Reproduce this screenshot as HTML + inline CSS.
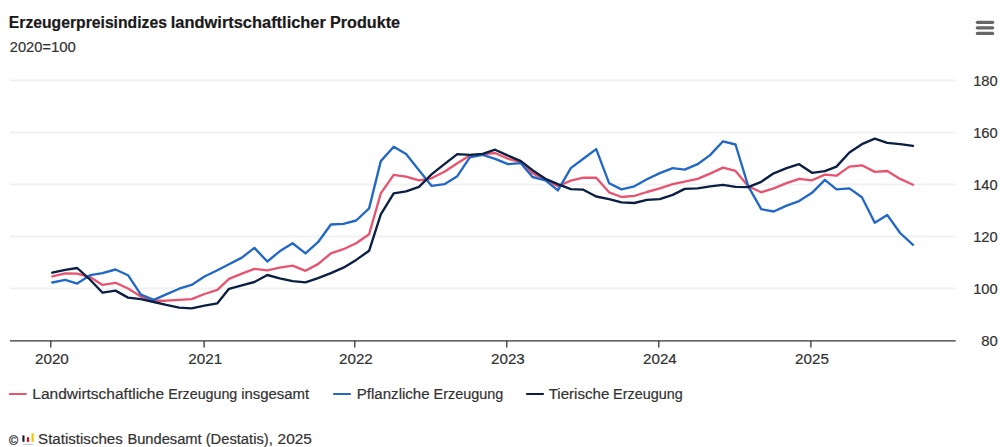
<!DOCTYPE html>
<html lang="de"><head><meta charset="utf-8"><title>Erzeugerpreisindizes landwirtschaftlicher Produkte</title>
<style>
html,body{margin:0;padding:0;background:#fff;}
body{width:1000px;height:447px;overflow:hidden;font-family:"Liberation Sans",sans-serif;}
svg{display:block;font-family:"Liberation Sans",sans-serif;}
</style></head><body>
<svg width="1000" height="447" viewBox="0 0 1000 447">
<rect x="0" y="0" width="1000" height="447" fill="#ffffff"/>
<rect x="0" y="0" width="995" height="10.5" fill="#fefefe"/>
<text x="8.8" y="27.5" font-size="15.6" font-weight="bold" fill="#1a1a1a" stroke="#1a1a1a" stroke-width="0.2" textLength="158.1" lengthAdjust="spacingAndGlyphs">Erzeugerpreisindizes</text><text x="170.8" y="27.5" font-size="15.6" font-weight="bold" fill="#1a1a1a" stroke="#1a1a1a" stroke-width="0.2" textLength="155.1" lengthAdjust="spacingAndGlyphs">landwirtschaftlicher</text><text x="330.0" y="27.5" font-size="15.6" font-weight="bold" fill="#1a1a1a" stroke="#1a1a1a" stroke-width="0.2" textLength="70.1" lengthAdjust="spacingAndGlyphs">Produkte</text>
<text x="9.8" y="51.6" font-size="14" font-weight="normal" fill="#333333" stroke="#333333" stroke-width="0.2" textLength="32.5" lengthAdjust="spacingAndGlyphs">2020</text><text x="42.4" y="51.6" font-size="14" font-weight="normal" fill="#333333" stroke="#333333" stroke-width="0.2" textLength="8.4" lengthAdjust="spacingAndGlyphs">=</text><text x="50.9" y="51.6" font-size="14" font-weight="normal" fill="#333333" stroke="#333333" stroke-width="0.2" textLength="24.9" lengthAdjust="spacingAndGlyphs">100</text>
<line x1="977.4" x2="992.6" y1="22.3" y2="22.3" stroke="#666" stroke-width="3.3" stroke-linecap="round"/><line x1="977.4" x2="992.6" y1="27.85" y2="27.85" stroke="#666" stroke-width="3.3" stroke-linecap="round"/><line x1="977.4" x2="992.6" y1="33.4" y2="33.4" stroke="#666" stroke-width="3.3" stroke-linecap="round"/>
<line x1="10" x2="955.7" y1="80.55" y2="80.55" stroke="#f1f1f1" stroke-width="1.9"/><line x1="10" x2="955.7" y1="132.55" y2="132.55" stroke="#f1f1f1" stroke-width="1.9"/><line x1="10" x2="955.7" y1="184.55" y2="184.55" stroke="#f1f1f1" stroke-width="1.9"/><line x1="10" x2="955.7" y1="236.55" y2="236.55" stroke="#f1f1f1" stroke-width="1.9"/><line x1="10" x2="955.7" y1="288.55" y2="288.55" stroke="#f1f1f1" stroke-width="1.9"/>
<path d="M52.3 276.3 L65.2 273.4 L77.2 273.7 L90.1 277.1 L102.6 284.9 L115.5 282.8 L128.0 288.5 L140.9 296.6 L153.8 300.7 L166.2 300.7 L179.1 299.9 L191.6 299.2 L204.5 294.0 L217.4 289.8 L229.0 278.9 L241.9 273.7 L254.4 268.9 L267.3 270.3 L279.7 267.7 L292.6 265.6 L305.5 270.8 L318.0 264.1 L330.9 253.4 L343.4 249.2 L356.2 243.3 L369.1 234.2 L380.8 193.3 L393.7 174.9 L406.1 176.7 L419.0 180.3 L431.5 178.3 L444.4 171.8 L457.3 163.2 L469.8 155.6 L482.7 154.3 L495.1 153.0 L508.0 158.8 L520.9 162.1 L532.5 173.3 L545.4 179.8 L557.9 186.3 L570.8 180.6 L583.3 177.7 L596.2 177.7 L609.1 192.3 L621.5 197.0 L634.4 195.9 L646.9 192.0 L659.8 188.4 L672.7 184.2 L684.7 181.6 L697.6 178.8 L710.1 173.6 L723.0 167.6 L735.5 170.9 L748.3 186.3 L761.2 192.3 L773.7 188.4 L786.6 183.2 L799.1 178.8 L812.0 180.3 L824.9 174.6 L836.5 175.7 L849.4 166.6 L861.9 165.3 L874.8 171.9 L887.2 171.0 L900.1 178.9 L913.0 184.8" fill="none" stroke="#e8546e" stroke-width="2.35" stroke-linejoin="round" stroke-linecap="round"/>
<path d="M52.3 282.5 L65.2 279.9 L77.2 283.6 L90.1 275.2 L102.6 273.2 L115.5 269.5 L128.0 275.2 L140.9 294.7 L153.8 299.9 L166.2 294.4 L179.1 288.7 L191.6 284.9 L204.5 276.5 L217.4 270.3 L229.0 264.3 L241.9 257.6 L254.4 247.9 L267.3 261.5 L279.7 251.3 L292.6 243.3 L305.5 253.4 L318.0 242.2 L330.9 224.5 L343.4 223.8 L356.2 220.5 L369.1 208.4 L380.8 161.1 L393.7 146.8 L406.1 154.1 L419.0 170.2 L431.5 185.8 L444.4 184.2 L457.3 176.2 L469.8 157.3 L482.7 154.9 L495.1 158.8 L508.0 164.2 L520.9 163.2 L532.5 177.0 L545.4 180.3 L557.9 190.4 L570.8 168.1 L583.3 158.8 L596.2 149.1 L609.1 183.2 L621.5 189.4 L634.4 186.3 L646.9 179.3 L659.8 173.1 L672.7 168.1 L684.7 169.7 L697.6 164.2 L710.1 155.1 L723.0 141.3 L735.5 144.5 L748.3 186.3 L761.2 209.2 L773.7 211.5 L786.6 205.6 L799.1 201.1 L812.0 192.8 L824.9 179.8 L836.5 189.4 L849.4 188.4 L861.9 197.2 L874.8 222.7 L887.2 214.9 L900.1 233.0 L913.0 244.8" fill="none" stroke="#2268c6" stroke-width="2.35" stroke-linejoin="round" stroke-linecap="round"/>
<path d="M52.3 272.7 L65.2 269.8 L77.2 268.0 L90.1 279.7 L102.6 292.7 L115.5 290.6 L128.0 297.6 L140.9 299.2 L153.8 302.0 L166.2 304.9 L179.1 307.6 L191.6 308.3 L204.5 305.7 L217.4 303.3 L229.0 288.8 L241.9 285.4 L254.4 282.0 L267.3 275.0 L279.7 278.4 L292.6 281.2 L305.5 282.3 L318.0 278.1 L330.9 273.2 L343.4 267.7 L356.2 259.9 L369.1 250.8 L380.8 214.4 L393.7 193.3 L406.1 191.3 L419.0 186.8 L431.5 174.4 L444.4 164.2 L457.3 154.1 L469.8 154.9 L482.7 153.8 L495.1 149.7 L508.0 155.6 L520.9 161.1 L532.5 170.2 L545.4 178.8 L557.9 184.2 L570.8 189.2 L583.3 189.7 L596.2 196.5 L609.1 199.1 L621.5 202.4 L634.4 203.0 L646.9 199.8 L659.8 199.1 L672.7 194.9 L684.7 188.9 L697.6 188.4 L710.1 186.3 L723.0 184.8 L735.5 186.8 L748.3 187.1 L761.2 181.8 L773.7 173.3 L786.6 168.2 L799.1 164.2 L812.0 172.8 L824.9 171.2 L836.5 166.6 L849.4 152.5 L861.9 144.2 L874.8 138.7 L887.2 142.9 L900.1 144.2 L913.0 145.8" fill="none" stroke="#0a1f44" stroke-width="2.35" stroke-linejoin="round" stroke-linecap="round"/>
<line x1="10" x2="955.7" y1="340.9" y2="340.9" stroke="#333" stroke-width="1.4"/>
<line x1="50.8" x2="50.8" y1="341" y2="347.6" stroke="#333" stroke-width="1.3"/><line x1="204.1" x2="204.1" y1="341" y2="347.6" stroke="#333" stroke-width="1.3"/><line x1="354.8" x2="354.8" y1="341" y2="347.6" stroke="#333" stroke-width="1.3"/><line x1="506.8" x2="506.8" y1="341" y2="347.6" stroke="#333" stroke-width="1.3"/><line x1="658.8" x2="658.8" y1="341" y2="347.6" stroke="#333" stroke-width="1.3"/><line x1="810.9" x2="810.9" y1="341" y2="347.6" stroke="#333" stroke-width="1.3"/>
<text x="35.0" y="363.8" font-size="14" font-weight="normal" fill="#333333" stroke="#333333" stroke-width="0.2" textLength="33.8" lengthAdjust="spacingAndGlyphs">2020</text><text x="188.3" y="363.8" font-size="14" font-weight="normal" fill="#333333" stroke="#333333" stroke-width="0.2" textLength="33.8" lengthAdjust="spacingAndGlyphs">2021</text><text x="339.0" y="363.8" font-size="14" font-weight="normal" fill="#333333" stroke="#333333" stroke-width="0.2" textLength="33.8" lengthAdjust="spacingAndGlyphs">2022</text><text x="491.0" y="363.8" font-size="14" font-weight="normal" fill="#333333" stroke="#333333" stroke-width="0.2" textLength="33.8" lengthAdjust="spacingAndGlyphs">2023</text><text x="643.0" y="363.8" font-size="14" font-weight="normal" fill="#333333" stroke="#333333" stroke-width="0.2" textLength="33.8" lengthAdjust="spacingAndGlyphs">2024</text><text x="795.1" y="363.8" font-size="14" font-weight="normal" fill="#333333" stroke="#333333" stroke-width="0.2" textLength="33.8" lengthAdjust="spacingAndGlyphs">2025</text>
<text x="973.2" y="86.3" font-size="14" font-weight="normal" fill="#333333" stroke="#333333" stroke-width="0.2" textLength="24.5" lengthAdjust="spacingAndGlyphs">180</text><text x="973.2" y="138.3" font-size="14" font-weight="normal" fill="#333333" stroke="#333333" stroke-width="0.2" textLength="24.5" lengthAdjust="spacingAndGlyphs">160</text><text x="973.2" y="190.3" font-size="14" font-weight="normal" fill="#333333" stroke="#333333" stroke-width="0.2" textLength="24.5" lengthAdjust="spacingAndGlyphs">140</text><text x="973.2" y="242.3" font-size="14" font-weight="normal" fill="#333333" stroke="#333333" stroke-width="0.2" textLength="24.5" lengthAdjust="spacingAndGlyphs">120</text><text x="973.2" y="294.3" font-size="14" font-weight="normal" fill="#333333" stroke="#333333" stroke-width="0.2" textLength="24.5" lengthAdjust="spacingAndGlyphs">100</text><text x="981.2" y="346.3" font-size="14" font-weight="normal" fill="#333333" stroke="#333333" stroke-width="0.2" textLength="16.5" lengthAdjust="spacingAndGlyphs">80</text>
<line x1="9.8" x2="25.7" y1="394" y2="394" stroke="#e8546e" stroke-width="2.2" stroke-linecap="round"/><text x="32.3" y="398.5" font-size="14" font-weight="normal" fill="#333333" stroke="#333333" stroke-width="0.2" textLength="131.8" lengthAdjust="spacingAndGlyphs">Landwirtschaftliche</text><text x="168.3" y="398.5" font-size="14" font-weight="normal" fill="#333333" stroke="#333333" stroke-width="0.2" textLength="69.0" lengthAdjust="spacingAndGlyphs">Erzeugung</text><text x="241.2" y="398.5" font-size="14" font-weight="normal" fill="#333333" stroke="#333333" stroke-width="0.2" textLength="68.0" lengthAdjust="spacingAndGlyphs">insgesamt</text><line x1="334" x2="350" y1="394" y2="394" stroke="#2268c6" stroke-width="2.2" stroke-linecap="round"/><text x="356.8" y="398.5" font-size="14" font-weight="normal" fill="#333333" stroke="#333333" stroke-width="0.2" textLength="72.8" lengthAdjust="spacingAndGlyphs">Pflanzliche</text><text x="433.6" y="398.5" font-size="14" font-weight="normal" fill="#333333" stroke="#333333" stroke-width="0.2" textLength="69.6" lengthAdjust="spacingAndGlyphs">Erzeugung</text><line x1="527" x2="543" y1="394" y2="394" stroke="#0a1f44" stroke-width="2.2" stroke-linecap="round"/><text x="548.7" y="398.5" font-size="14" font-weight="normal" fill="#333333" stroke="#333333" stroke-width="0.2" textLength="60.6" lengthAdjust="spacingAndGlyphs">Tierische</text><text x="613.1" y="398.5" font-size="14" font-weight="normal" fill="#333333" stroke="#333333" stroke-width="0.2" textLength="69.6" lengthAdjust="spacingAndGlyphs">Erzeugung</text>
<text x="9.0" y="444.5" font-size="12.4" fill="#333333" stroke="#333333" stroke-width="0.3">©</text><rect x="22.4" y="435.4" width="2.1" height="6.4" fill="#1a1a1a"/><rect x="26.9" y="437.2" width="2.1" height="4.7" fill="#e2001a"/><rect x="31.5" y="433.3" width="2.2" height="8.5" fill="#f6c300"/><rect x="22.7" y="443.9" width="10.2" height="0.8" fill="#b0b0b0"/><text x="38.1" y="443.9" font-size="14" font-weight="normal" fill="#333333" stroke="#333333" stroke-width="0.2" textLength="84.7" lengthAdjust="spacingAndGlyphs">Statistisches</text><text x="127.4" y="443.9" font-size="14" font-weight="normal" fill="#333333" stroke="#333333" stroke-width="0.2" textLength="74.3" lengthAdjust="spacingAndGlyphs">Bundesamt</text><text x="205.7" y="443.9" font-size="14" font-weight="normal" fill="#333333" stroke="#333333" stroke-width="0.2" textLength="67.1" lengthAdjust="spacingAndGlyphs">(Destatis),</text><text x="277.6" y="443.9" font-size="14" font-weight="normal" fill="#333333" stroke="#333333" stroke-width="0.2" textLength="34.3" lengthAdjust="spacingAndGlyphs">2025</text>
</svg>
</body></html>
